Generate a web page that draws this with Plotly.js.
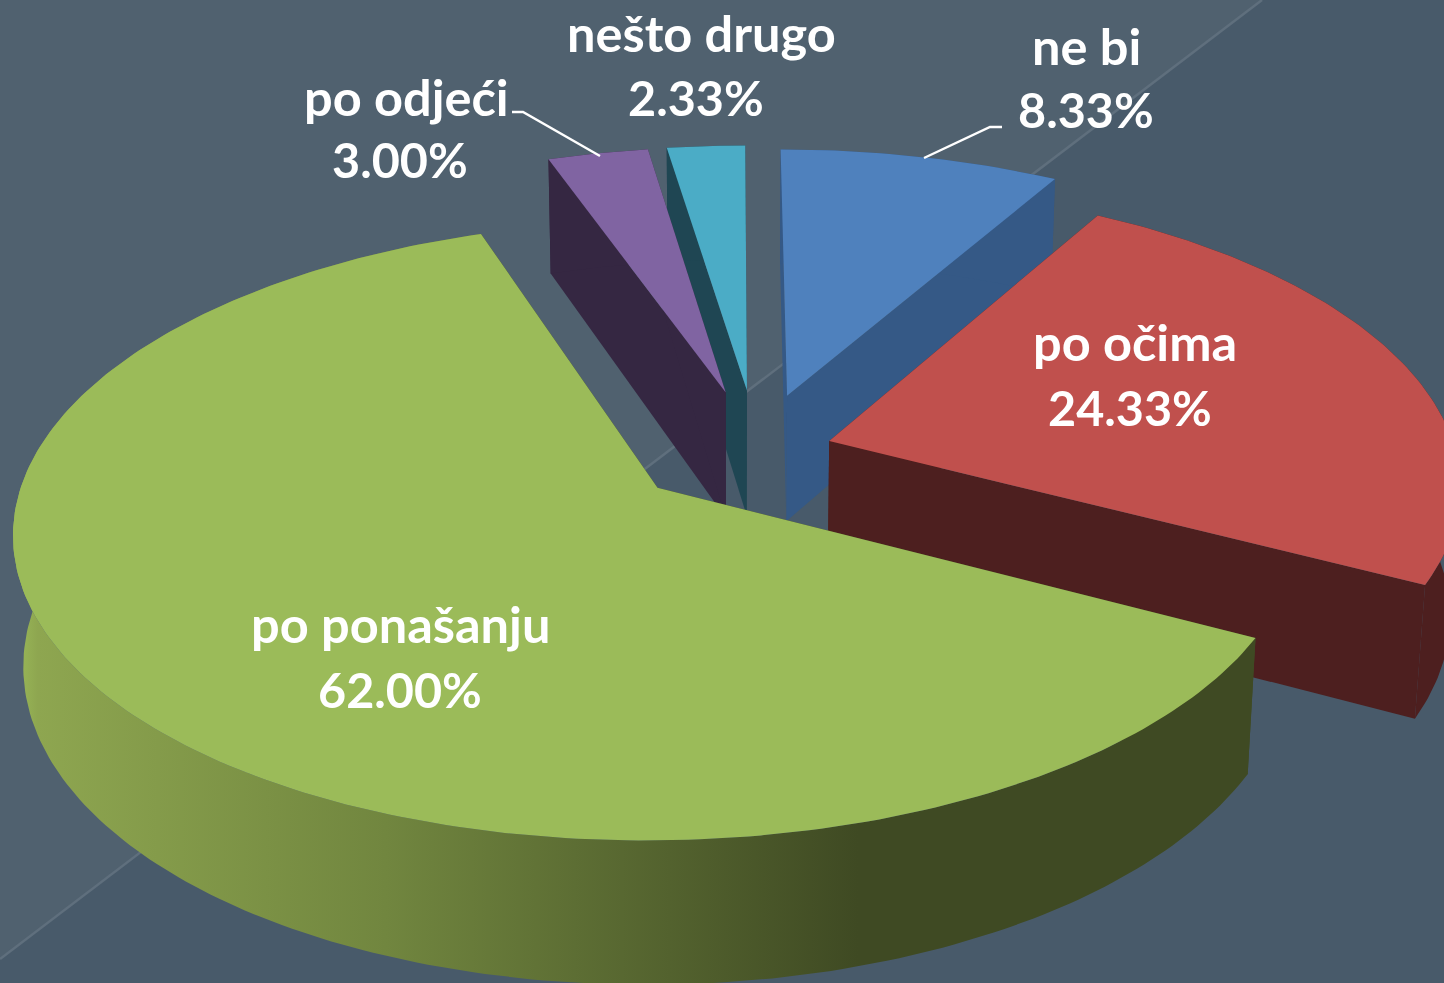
<!DOCTYPE html>
<html><head><meta charset="utf-8">
<script src="https://cdn.plot.ly/plotly-3.0.1.min.js"></script>
<style>html,body{margin:0;padding:0;background:#485a6a;overflow:hidden}#chart{width:1444px;height:983px}</style>
</head><body><div id="chart"></div>
<script>
const categories = ["ne bi", "po očima", "po ponašanju", "po odjeći", "nešto drugo"];
const values = [8.33, 24.33, 62.00, 3.00, 2.33];
const topColors = ["#4f81bd", "#c0504d", "#9bbb59", "#8064a2", "#4bacc6"];
const wallColors = ["#355986", "#4d1f1f", "#3f4a23", "#352742", "#1f4653"];
const explodeU = [0.088, 0.152, -0.114, -0.010, 0.024];
const explodeV = [0.208, 0.053, -0.100, 0.219, 0.226];
const paintOrder = [0, 4, 3, 1, 2];
const labelX = [1086, 1135, 400, 406, 701];
const labelY = [45, 341, 623, 96, 32];
const valueX = [1086, 1130, 400, 400, 696];
const valueY = [109, 407, 689, 159, 97];
const leaderX = [[924, 990, 1002], [], [], [600, 523, 512], []];
const leaderY = [[158, 127, 127], [], [], [156, 112, 112], []];

const W = 1444, H = 983;
const CX = 732, CY = 457, A = 644, B = 303, C = 130, P = 0.14, R = 0.014, RAD = 0.975;
function project(u, v, h) {
  const w = 1 + P * v + R * h;
  return [CX + A * u / w, CY + (-B * v + C * h) / w];
}
const total = values.reduce((s, x) => s + x, 0);
let acc = 0;
const slices = values.map((val, i) => {
  const a0 = acc / total * 2 * Math.PI; acc += val;
  return {i, a0, a1: acc / total * 2 * Math.PI, u0: explodeU[i], v0: explodeV[i]};
});
function rim(s, h, reverse) {
  const n = Math.max(12, Math.round((s.a1 - s.a0) * 60)), pts = [];
  for (let k = 0; k <= n; k++) {
    const a = s.a0 + (s.a1 - s.a0) * (reverse ? n - k : k) / n;
    pts.push(project(s.u0 + RAD * Math.sin(a), s.v0 + RAD * Math.cos(a), h));
  }
  return pts;
}
function edge(s, a) {
  const u = s.u0 + RAD * Math.sin(a), v = s.v0 + RAD * Math.cos(a);
  return [project(s.u0, s.v0, 0), project(u, v, 0), project(u, v, 1), project(s.u0, s.v0, 1)];
}
function poly(pts, color, extra) {
  const p = pts.concat([pts[0]]);
  return Object.assign({type: "scatter", mode: "lines", x: p.map(q => q[0]), y: p.map(q => q[1]),
    fill: "toself", fillcolor: color, line: {width: 0, color: color}, hoverinfo: "skip", showlegend: false}, extra || {});
}
const traces = [];
paintOrder.forEach(idx => {
  const s = slices[idx];
  traces.push(poly(edge(s, s.a0), wallColors[idx]));
  traces.push(poly(edge(s, s.a1), wallColors[idx]));
  const wall = rim(s, 0, false).concat(rim(s, 1, true));
  if (categories[idx] === "po ponašanju") {
    traces.push(poly(wall, wallColors[idx], {fillgradient: {type: "horizontal", colorscale: [
      [0, "#9bbb59"], [0.02, "#8ea650"], [0.3, "#71863f"], [0.68, "#3f4a23"], [1, "#3f4a23"]]}}));
  } else {
    traces.push(poly(wall, wallColors[idx]));
  }
  traces.push(poly(rim(s, 0, false).concat([project(s.u0, s.v0, 0)]), topColors[idx]));
});
leaderX.forEach((lx, i) => {
  if (lx.length) traces.push({type: "scatter", mode: "lines", x: lx, y: leaderY[i],
    line: {color: "#ffffff", width: 2.4}, hoverinfo: "skip", showlegend: false});
});
const labelFont = {family: "Lato, sans-serif", size: 50.5, color: "#ffffff"};
const valueFont = {family: "Lato, sans-serif", size: 48.5, color: "#ffffff"};
const annotations = [];
categories.forEach((c, i) => {
  annotations.push({x: labelX[i], y: labelY[i], xref: "x", yref: "y", text: "<b>" + c + "</b>", showarrow: false, font: labelFont});
  annotations.push({x: valueX[i], y: valueY[i], xref: "x", yref: "y", text: "<b>" + values[i].toFixed(2) + "%</b>", showarrow: false, font: valueFont});
});
const shapes = [
  {type: "path", layer: "below", path: "M0,0 L1262,0 L0,959 Z", fillcolor: "#50616f", line: {width: 0}},
  {type: "line", layer: "below", x0: 1262, y0: 0, x1: 0, y1: 959, line: {color: "#5f6f7d", width: 2.5}}
];
const layout = {
  width: W, height: H, margin: {l: 0, r: 0, t: 0, b: 0}, paper_bgcolor: "#485a6a", plot_bgcolor: "rgba(0,0,0,0)",
  xaxis: {range: [0, W], visible: false, fixedrange: true},
  yaxis: {range: [H, 0], visible: false, fixedrange: true},
  showlegend: false, annotations, shapes
};
Plotly.newPlot("chart", traces, layout, {displayModeBar: false, staticPlot: true});
</script></body></html>
